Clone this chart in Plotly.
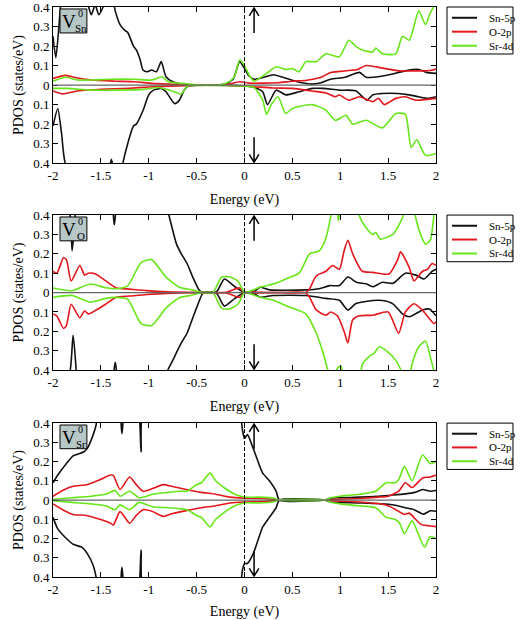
import plotly.graph_objects as go

# ---------------- DATA ----------------
species = ["Sn-5p", "O-2p", "Sr-4d"]
panel_labels = ["Sn", "O", "Sr"]
y_tick_vals = [-0.4, -0.3, -0.2, -0.1, 0, 0.1, 0.2, 0.3, 0.4]
y_tick_text = ["0.4", "0.3", "0.2", "0.1", "0", "0.1", "0.2", "0.3", "0.4"]
x_tick_vals = [-2, -1.5, -1, -0.5, 0, 0.5, 1, 1.5, 2]
x_tick_text = ["-2", "-1.5", "-1", "-0.5", "0", "0.5", "1", "1.5", "2"]

# Panel 1: V_Sn
p1_sn_up_x = [-2.0, -1.97, -1.93, -1.9, -1.8, -1.64, -1.6, -1.56, -1.52, -1.46, -1.4, -1.35, -1.3, -1.25, -1.22, -1.16, -1.13, -1.09, -1.06, -1.02, -0.97, -0.92, -0.87, -0.82, -0.75, -0.66, -0.59, -0.3, -0.2, -0.12, -0.05, 0.0, 0.05, 0.1, 0.2, 0.3, 0.4, 0.5, 0.6, 0.7, 0.8, 0.9, 1.05, 1.2, 1.27, 1.34, 1.51, 1.68, 1.82, 1.9, 2.0]
p1_sn_up_y = [0.25, 0.14, 0.35, 0.5, 0.6, 0.42, 0.36, 0.41, 0.36, 0.42, 0.5, 0.38, 0.31, 0.28, 0.27, 0.2, 0.18, 0.13, 0.077, 0.068, 0.077, 0.068, 0.12, 0.043, 0.017, 0.005, 0.0, 0.0, 0.005, 0.03, 0.12, 0.085, 0.045, 0.03, 0.04, 0.053, 0.04, 0.025, 0.012, 0.005, 0.012, 0.03, 0.04, 0.065, 0.04, 0.04, 0.053, 0.073, 0.08, 0.065, 0.06]
p1_sn_dn_x = [-2.0, -1.95, -1.91, -1.86, -1.5, -1.42, -1.39, -1.36, -1.3, -1.27, -1.22, -1.16, -1.13, -1.06, -1.0, -0.95, -0.87, -0.82, -0.73, -0.68, -0.63, -0.59, -0.5, -0.2, 0.0, 0.1, 0.19, 0.24, 0.33, 0.43, 0.57, 0.71, 0.82, 0.99, 1.16, 1.28, 1.34, 1.44, 1.6, 1.72, 1.82, 1.91, 2.0]
p1_sn_dn_y = [-0.21, -0.12, -0.25, -0.42, -0.6, -0.45, -0.38, -0.45, -0.5, -0.4, -0.3, -0.21, -0.2, -0.13, -0.05, -0.026, -0.017, -0.034, -0.095, -0.077, -0.026, -0.005, 0.0, 0.0, -0.005, -0.012, -0.034, -0.1, -0.026, -0.05, -0.034, -0.017, -0.017, -0.026, -0.029, -0.077, -0.05, -0.043, -0.043, -0.05, -0.06, -0.068, -0.06]
p1_o_up_x = [-2.0, -1.87, -1.78, -1.6, -1.35, -1.15, -0.97, -0.8, -0.6, -0.2, -0.05, 0.05, 0.2, 0.35, 0.5, 0.65, 0.8, 0.9, 1.0, 1.09, 1.18, 1.27, 1.44, 1.61, 1.82, 1.94, 2.0]
p1_o_up_y = [0.034, 0.05, 0.04, 0.026, 0.02, 0.017, 0.009, 0.005, 0.002, 0.002, 0.017, 0.01, 0.01, 0.012, 0.02, 0.025, 0.04, 0.065, 0.07, 0.075, 0.08, 0.1, 0.087, 0.073, 0.073, 0.075, 0.082]
p1_o_dn_x = [-2.0, -1.9, -1.75, -1.5, -1.2, -1.0, -0.7, -0.4, 0.0, 0.3, 0.5, 0.7, 0.85, 0.95, 0.99, 1.09, 1.2, 1.34, 1.4, 1.46, 1.58, 1.68, 1.79, 2.0]
p1_o_dn_y = [-0.03, -0.045, -0.03, -0.022, -0.016, -0.01, -0.004, -0.001, -0.005, -0.015, -0.017, -0.03, -0.04, -0.06, -0.051, -0.077, -0.06, -0.085, -0.068, -0.1, -0.068, -0.06, -0.077, -0.068]
p1_sr_up_x = [-2.0, -1.87, -1.75, -1.6, -1.4, -1.15, -0.97, -0.86, -0.8, -0.66, -0.5, -0.25, -0.15, -0.1, -0.05, 0.0, 0.05, 0.1, 0.23, 0.33, 0.43, 0.5, 0.57, 0.64, 0.75, 0.85, 0.99, 1.09, 1.16, 1.23, 1.34, 1.37, 1.44, 1.58, 1.65, 1.72, 1.82, 1.89, 1.94, 2.0]
p1_sr_up_y = [0.02, 0.04, 0.026, 0.026, 0.03, 0.03, 0.026, 0.043, 0.017, 0.009, 0.002, 0.002, 0.02, 0.05, 0.13, 0.1, 0.05, 0.02, 0.06, 0.094, 0.08, 0.085, 0.068, 0.12, 0.12, 0.16, 0.145, 0.23, 0.2, 0.18, 0.17, 0.19, 0.16, 0.16, 0.25, 0.23, 0.38, 0.31, 0.37, 0.42]
p1_sr_dn_x = [-2.0, -1.85, -1.6, -1.35, -1.05, -0.9, -0.78, -0.66, -0.6, -0.5, 0.0, 0.1, 0.19, 0.23, 0.28, 0.35, 0.43, 0.5, 0.57, 0.71, 0.85, 0.95, 1.06, 1.13, 1.27, 1.44, 1.58, 1.68, 1.74, 1.8, 1.89, 2.0]
p1_sr_dn_y = [-0.017, -0.017, -0.026, -0.026, -0.022, -0.012, -0.026, -0.045, -0.005, -0.002, -0.005, -0.012, -0.077, -0.15, -0.1, -0.06, -0.145, -0.12, -0.11, -0.1, -0.128, -0.18, -0.155, -0.2, -0.18, -0.22, -0.145, -0.15, -0.32, -0.28, -0.36, -0.35]

# Panel 2: V_O
p2_sn_up_x = [-2.0, -1.84, -1.8, -1.76, -1.72, -1.4, -1.36, -1.31, -0.9, -0.8, -0.71, -0.66, -0.6, -0.54, -0.47, -0.43, -0.3, -0.27, -0.21, -0.1, 0.0, 0.1, 0.16, 0.26, 0.64, 0.78, 0.89, 0.99, 1.08, 1.17, 1.27, 1.34, 1.44, 1.55, 1.68, 1.79, 1.875, 1.96, 2.0]
p2_sn_up_y = [0.5, 0.45, 0.215, 0.45, 0.6, 0.5, 0.35, 0.5, 0.6, 0.42, 0.25, 0.2, 0.15, 0.08, 0.01, 0.0, 0.0, 0.02, 0.07, 0.03, 0.0, 0.005, 0.027, 0.014, 0.014, 0.02, 0.036, 0.036, 0.08, 0.053, 0.045, 0.03, 0.053, 0.048, 0.1, 0.09, 0.07, 0.11, 0.12]
p2_sn_dn_x = [-2.0, -1.84, -1.79, -1.75, -1.72, -1.4, -1.35, -1.3, -0.9, -0.8, -0.75, -0.66, -0.6, -0.54, -0.47, -0.43, -0.3, -0.27, -0.21, -0.1, 0.0, 0.1, 0.16, 0.3, 0.64, 0.85, 0.99, 1.08, 1.16, 1.34, 1.44, 1.55, 1.65, 1.72, 1.86, 1.93, 2.0]
p2_sn_dn_y = [-0.5, -0.45, -0.22, -0.45, -0.6, -0.5, -0.36, -0.5, -0.6, -0.4, -0.35, -0.26, -0.21, -0.13, -0.04, 0.0, 0.0, -0.02, -0.07, -0.03, 0.0, -0.005, -0.024, -0.015, -0.015, -0.03, -0.04, -0.09, -0.058, -0.041, -0.041, -0.058, -0.11, -0.125, -0.09, -0.085, -0.12]
p2_o_up_x = [-2.0, -1.96, -1.89, -1.86, -1.81, -1.72, -1.67, -1.63, -1.55, -1.45, -1.34, -1.2, -1.02, -0.8, -0.5, -0.2, -0.05, 0.0, 0.3, 0.64, 0.68, 0.75, 0.85, 0.92, 0.99, 1.04, 1.08, 1.13, 1.23, 1.34, 1.51, 1.6, 1.63, 1.72, 1.77, 1.86, 1.91, 1.96, 2.0]
p2_o_up_y = [0.11, 0.1, 0.18, 0.17, 0.06, 0.14, 0.09, 0.1, 0.095, 0.06, 0.024, 0.018, 0.01, 0.004, 0.001, 0.001, 0.024, 0.0, 0.001, 0.001, 0.02, 0.087, 0.11, 0.14, 0.12, 0.215, 0.27, 0.2, 0.11, 0.104, 0.096, 0.17, 0.21, 0.13, 0.06, 0.11, 0.12, 0.15, 0.14]
p2_o_dn_x = [-2.0, -1.96, -1.89, -1.86, -1.81, -1.72, -1.67, -1.63, -1.55, -1.45, -1.34, -1.2, -1.02, -0.8, -0.5, -0.2, -0.05, 0.0, 0.3, 0.64, 0.68, 0.75, 0.85, 0.9, 0.97, 1.04, 1.08, 1.13, 1.2, 1.34, 1.5, 1.61, 1.68, 1.77, 1.86, 1.98, 2.0]
p2_o_dn_y = [-0.11, -0.12, -0.185, -0.17, -0.06, -0.13, -0.095, -0.11, -0.09, -0.06, -0.024, -0.018, -0.01, -0.004, -0.001, -0.001, -0.024, 0.0, -0.001, -0.001, -0.025, -0.09, -0.117, -0.1, -0.12, -0.2, -0.26, -0.14, -0.12, -0.117, -0.1, -0.21, -0.1, -0.058, -0.092, -0.16, -0.15]
p2_sr_up_x = [-2.0, -1.8, -1.61, -1.45, -1.34, -1.22, -1.08, -0.97, -0.82, -0.68, -0.55, -0.43, -0.33, -0.24, -0.16, -0.07, 0.0, 0.05, 0.16, 0.3, 0.43, 0.57, 0.68, 0.78, 0.85, 0.9, 0.95, 0.98, 1.02, 1.17, 1.2, 1.27, 1.34, 1.37, 1.42, 1.48, 1.55, 1.65, 1.7, 1.77, 1.82, 1.89, 1.94, 1.98, 2.0]
p2_sr_up_y = [0.024, 0.01, 0.044, 0.025, 0.02, 0.035, 0.155, 0.17, 0.08, 0.027, 0.014, 0.0, 0.0, 0.08, 0.082, 0.06, 0.0, 0.005, 0.027, 0.044, 0.07, 0.1, 0.2, 0.215, 0.28, 0.39, 0.5, 0.37, 0.5, 0.5, 0.395, 0.335, 0.3, 0.31, 0.275, 0.284, 0.3, 0.386, 0.5, 0.42, 0.326, 0.25, 0.27, 0.403, 0.45]
p2_sr_dn_x = [-2.0, -1.8, -1.61, -1.45, -1.34, -1.22, -1.08, -0.97, -0.82, -0.68, -0.55, -0.43, -0.33, -0.24, -0.16, -0.07, 0.0, 0.05, 0.16, 0.3, 0.47, 0.64, 0.75, 0.82, 0.88, 0.92, 0.97, 1.01, 1.05, 1.18, 1.23, 1.3, 1.35, 1.41, 1.48, 1.58, 1.65, 1.7, 1.75, 1.82, 1.89, 1.95, 2.0]
p2_sr_dn_y = [-0.024, -0.015, -0.05, -0.03, -0.025, -0.035, -0.16, -0.17, -0.08, -0.027, -0.014, 0.0, 0.0, -0.08, -0.085, -0.06, 0.0, -0.005, -0.024, -0.04, -0.075, -0.11, -0.21, -0.31, -0.42, -0.5, -0.39, -0.38, -0.5, -0.5, -0.37, -0.33, -0.315, -0.28, -0.3, -0.35, -0.42, -0.5, -0.37, -0.28, -0.25, -0.35, -0.45]

# Panel 3: V_Sr
p3_sn_up_x = [-2.0, -1.95, -1.86, -1.79, -1.68, -1.64, -1.58, -1.55, -1.52, -1.32, -1.28, -1.24, -1.12, -1.08, -1.04, -0.08, -0.02, 0.0, 0.03, 0.09, 0.16, 0.19, 0.26, 0.33, 0.365, 0.83, 0.9, 1.0, 1.2, 1.4, 1.55, 1.68, 1.78, 1.86, 1.94, 2.0]
p3_sn_up_y = [0.09, 0.13, 0.19, 0.23, 0.25, 0.27, 0.34, 0.39, 0.5, 0.5, 0.345, 0.5, 0.5, 0.25, 0.5, 0.5, 0.36, 0.32, 0.34, 0.27, 0.175, 0.14, 0.1, 0.046, 0.0, 0.0, 0.01, 0.012, 0.015, 0.02, 0.026, 0.032, 0.04, 0.055, 0.046, 0.05]
p3_sn_dn_x = [-2.0, -1.95, -1.86, -1.79, -1.7, -1.64, -1.58, -1.55, -1.52, -1.32, -1.28, -1.24, -1.12, -1.08, -1.04, -0.08, -0.02, 0.0, 0.03, 0.09, 0.16, 0.19, 0.26, 0.33, 0.365, 0.83, 0.9, 1.2, 1.5, 1.6, 1.68, 1.77, 1.87, 1.94, 2.0]
p3_sn_dn_y = [-0.09, -0.15, -0.2, -0.23, -0.245, -0.28, -0.34, -0.4, -0.5, -0.5, -0.35, -0.5, -0.5, -0.26, -0.5, -0.5, -0.36, -0.33, -0.33, -0.28, -0.18, -0.14, -0.09, -0.04, 0.0, 0.0, -0.01, -0.015, -0.022, -0.03, -0.04, -0.05, -0.073, -0.056, -0.058]
p3_o_up_x = [-2.0, -1.9, -1.79, -1.65, -1.51, -1.4, -1.37, -1.3, -1.2, -1.13, -1.06, -0.96, -0.85, -0.75, -0.61, -0.45, -0.3, -0.15, 0.0, 0.2, 0.4, 0.85, 0.9, 1.2, 1.4, 1.5, 1.61, 1.68, 1.75, 1.86, 1.94, 2.0]
p3_o_up_y = [0.02, 0.05, 0.072, 0.08, 0.106, 0.13, 0.128, 0.055, 0.12, 0.08, 0.046, 0.06, 0.08, 0.07, 0.055, 0.04, 0.03, 0.015, 0.01, 0.008, 0.0, 0.0, 0.003, 0.008, 0.015, 0.02, 0.046, 0.09, 0.065, 0.115, 0.12, 0.13]
p3_o_dn_x = [-2.0, -1.9, -1.79, -1.65, -1.51, -1.4, -1.37, -1.3, -1.2, -1.13, -1.06, -0.96, -0.85, -0.75, -0.61, -0.45, -0.3, -0.15, 0.0, 0.2, 0.4, 0.85, 0.9, 1.2, 1.4, 1.5, 1.58, 1.67, 1.72, 1.84, 1.94, 2.0]
p3_o_dn_y = [-0.02, -0.05, -0.075, -0.08, -0.1, -0.12, -0.13, -0.06, -0.12, -0.08, -0.05, -0.06, -0.085, -0.07, -0.055, -0.04, -0.03, -0.015, -0.01, -0.008, 0.0, 0.0, -0.003, -0.01, -0.018, -0.03, -0.05, -0.075, -0.068, -0.125, -0.135, -0.138]
p3_sr_up_x = [-2.0, -1.8, -1.6, -1.45, -1.35, -1.3, -1.2, -1.1, -0.96, -0.8, -0.68, -0.6, -0.5, -0.45, -0.36, -0.3, -0.2, -0.1, 0.0, 0.15, 0.3, 0.36, 0.85, 0.9, 1.0, 1.2, 1.37, 1.48, 1.57, 1.61, 1.67, 1.75, 1.86, 1.94, 2.0]
p3_sr_up_y = [0.004, 0.012, 0.02, 0.03, 0.05, 0.02, 0.046, 0.012, 0.03, 0.04, 0.046, 0.046, 0.08, 0.09, 0.14, 0.1, 0.06, 0.03, 0.015, 0.015, 0.01, 0.0, 0.0, 0.012, 0.02, 0.03, 0.046, 0.09, 0.09, 0.106, 0.175, 0.1, 0.234, 0.19, 0.2]
p3_sr_dn_x = [-2.0, -1.8, -1.6, -1.45, -1.35, -1.3, -1.2, -1.1, -0.96, -0.8, -0.68, -0.6, -0.5, -0.45, -0.36, -0.3, -0.2, -0.1, 0.0, 0.15, 0.3, 0.36, 0.85, 0.9, 1.0, 1.2, 1.37, 1.48, 1.57, 1.62, 1.67, 1.75, 1.88, 1.94, 2.0]
p3_sr_dn_y = [-0.004, -0.012, -0.02, -0.03, -0.05, -0.025, -0.05, -0.012, -0.035, -0.04, -0.045, -0.05, -0.08, -0.09, -0.14, -0.1, -0.06, -0.03, -0.015, -0.015, -0.01, 0.0, 0.0, -0.012, -0.02, -0.03, -0.04, -0.09, -0.1, -0.12, -0.176, -0.108, -0.245, -0.19, -0.2]

panels = [
    [(p1_sn_up_x, p1_sn_up_y, p1_sn_dn_x, p1_sn_dn_y),
     (p1_o_up_x, p1_o_up_y, p1_o_dn_x, p1_o_dn_y),
     (p1_sr_up_x, p1_sr_up_y, p1_sr_dn_x, p1_sr_dn_y)],
    [(p2_sn_up_x, p2_sn_up_y, p2_sn_dn_x, p2_sn_dn_y),
     (p2_o_up_x, p2_o_up_y, p2_o_dn_x, p2_o_dn_y),
     (p2_sr_up_x, p2_sr_up_y, p2_sr_dn_x, p2_sr_dn_y)],
    [(p3_sn_up_x, p3_sn_up_y, p3_sn_dn_x, p3_sn_dn_y),
     (p3_o_up_x, p3_o_up_y, p3_o_dn_x, p3_o_dn_y),
     (p3_sr_up_x, p3_sr_up_y, p3_sr_dn_x, p3_sr_dn_y)],
]

# ---------------- STYLE ----------------
colors = ["#111111", "#e3171c", "#66e619"]
FONT = "Liberation Serif, Times New Roman, serif"
domains = [[0.726, 1.0], [0.363, 0.635], [0.0, 0.270]]
legend_rows = [0.931, 0.842, 0.752]

fig = go.Figure()
shapes = []
annotations = []

for p in range(3):
    xa = "x" if p == 0 else f"x{p+1}"
    ya = "y" if p == 0 else f"y{p+1}"
    for s in range(3):
        ux, uy, dx, dy = panels[p][s]
        for xs, ys in ((ux, uy), (dx, dy)):
            fig.add_trace(go.Scatter(x=xs, y=ys, mode="lines", name=species[s],
                                     line=dict(color=colors[s], width=1.6, shape="spline", smoothing=0.6),
                                     xaxis=xa, yaxis=ya, showlegend=False, hoverinfo="skip"))
    axis_common = dict(showline=True, linecolor="black", linewidth=1, mirror="ticks",
                       ticks="inside", ticklen=5, tickcolor="black", showgrid=False,
                       zeroline=False, automargin=False, ticklabeloverflow="allow",
                       tickfont=dict(family=FONT, size=13, color="black"))
    fig.layout[("xaxis" if p == 0 else f"xaxis{p+1}")] = dict(
        axis_common, domain=[0, 1], anchor=ya, range=[-2, 2],
        tickvals=x_tick_vals, ticktext=x_tick_text,
        title=dict(text="Energy (eV)", font=dict(family=FONT, size=14, color="black"), standoff=12))
    fig.layout[("yaxis" if p == 0 else f"yaxis{p+1}")] = dict(
        axis_common, domain=domains[p], anchor=xa, range=[-0.4, 0.4],
        tickvals=y_tick_vals, ticktext=y_tick_text,
        title=dict(text="PDOS (states/eV)", font=dict(family=FONT, size=14, color="black"), standoff=6))

    # zero line, dashed Fermi level
    shapes.append(dict(type="line", xref=xa, yref=ya, x0=-2, x1=2, y0=0, y1=0,
                       line=dict(color="#666666", width=1.2), layer="above"))
    shapes.append(dict(type="line", xref=xa, yref=ya, x0=0, x1=0, y0=-0.4, y1=0.4,
                       line=dict(color="black", width=1, dash="4px,2px"), layer="above"))
    # spin arrows
    shapes.append(dict(type="path", xref=xa, yref=ya,
                       path="M 0.1,0.267 L 0.1,0.395 M 0.05,0.355 L 0.1,0.395 L 0.15,0.355",
                       line=dict(color="black", width=1.5)))
    shapes.append(dict(type="path", xref=xa, yref=ya,
                       path="M 0.1,-0.267 L 0.1,-0.395 M 0.05,-0.355 L 0.1,-0.395 L 0.15,-0.355",
                       line=dict(color="black", width=1.5)))
    # label box
    shapes.append(dict(type="rect", xref=xa, yref=ya, x0=-1.927, x1=-1.646, y0=0.267, y1=0.39,
                       fillcolor="#b7c6c6", line=dict(color="black", width=1), layer="above"))
    annotations.append(dict(xref=xa, yref=ya, x=-1.833, y=0.326, text="V", showarrow=False,
                            font=dict(family=FONT, size=19, color="black")))
    annotations.append(dict(xref=xa, yref=ya, x=-1.708, y=0.366, text="0", showarrow=False,
                            font=dict(family=FONT, size=10, color="black")))
    annotations.append(dict(xref=xa, yref=ya, x=-1.708, y=0.292, text=panel_labels[p], showarrow=False,
                            font=dict(family=FONT, size=11, color="black")))

    # legend box (drawn next to each panel)
    xd = f"{xa} domain"
    yd = f"{ya} domain"
    shapes.append(dict(type="rect", xref=xd, yref=yd, x0=1.0287, x1=1.201, y0=0.699, y1=1.0,
                       fillcolor="white", line=dict(color="black", width=1)))
    for s in range(3):
        shapes.append(dict(type="line", xref=xd, yref=yd, x0=1.0418, x1=1.107,
                           y0=legend_rows[s], y1=legend_rows[s],
                           line=dict(color=colors[s], width=2)))
        annotations.append(dict(xref=xd, yref=yd, x=1.133, y=legend_rows[s], text=species[s],
                                xanchor="left", yanchor="middle", showarrow=False,
                                font=dict(family=FONT, size=11, color="black")))

fig.update_layout(width=520, height=620, margin=dict(l=53, r=84, t=7, b=43),
                  plot_bgcolor="white", paper_bgcolor="white", showlegend=False,
                  shapes=shapes, annotations=annotations,
                  font=dict(family=FONT, color="black"))

fig.write_html("out.html", config={"displayModeBar": False},
               post_script="document.body.style.margin='0';")
